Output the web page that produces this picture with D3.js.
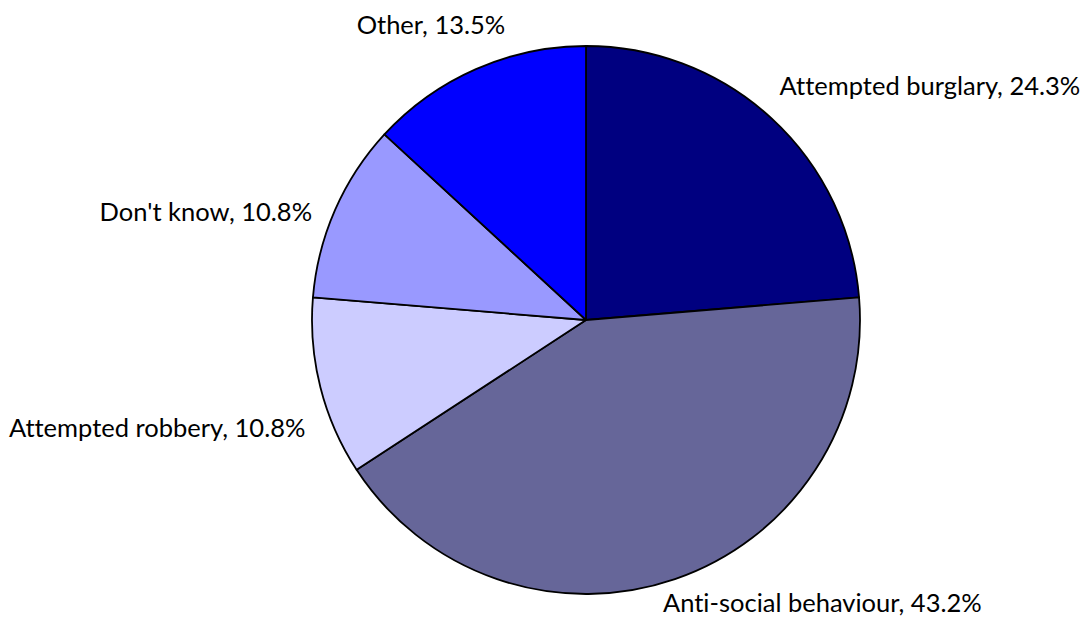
<!DOCTYPE html>
<html>
<head>
<meta charset="utf-8">
<script src="https://cdn.jsdelivr.net/npm/d3@7"></script>
<style>
  html, body { margin: 0; padding: 0; background: #fff; }
  svg text { font-family: "Lato", "Open Sans", sans-serif; fill: #000; font-variant-ligatures: none; font-feature-settings: "liga" 0; }
</style>
</head>
<body>
<svg id="chart" width="1084" height="621"></svg>
<script>
// Reasons reported, share of responses (%)
const categories = ["Attempted burglary", "Anti-social behaviour", "Attempted robbery", "Don't know", "Other"];
const shares = [24.3, 43.2, 10.8, 10.8, 13.5];
const sliceColors = ["#000080", "#666699", "#CCCCFF", "#9999FF", "#0000FF"];

const width = 1084, height = 621;
const cx = 586, cy = 320, radius = 274;

const svg = d3.select("#chart");
const g = svg.append("g").attr("transform", `translate(${cx},${cy})`);

const data = categories.map((c, i) => ({ name: c, value: shares[i], color: sliceColors[i] }));

const pie = d3.pie().value(d => d.value).sort(null);
const arc = d3.arc().innerRadius(0).outerRadius(radius);
const arcs = pie(data);

g.selectAll("path.slice")
  .data(arcs)
  .join("path")
  .attr("class", "slice")
  .attr("d", arc)
  .attr("fill", d => d.data.color)
  .attr("stroke", "#000")
  .attr("stroke-width", 1.8)
  .attr("stroke-linejoin", "round");

// Label placement: anchored on the slice's mid-angle at the rim,
// with per-label nudges so the text sits clear of the pie.
const labelNudge = {
  "Attempted burglary": { dx: 8, dy: -23, anchor: "start" },
  "Anti-social behaviour": { dx: -12, dy: 33, anchor: "start" },
  "Attempted robbery": { dx: -15, dy: 50, anchor: "end" },
  "Don't know": { dx: -23, dy: 11, anchor: "end" },
  "Other": { dx: -45, dy: -35, anchor: "middle" }
};

g.selectAll("text.label")
  .data(arcs)
  .join("text")
  .attr("class", "label")
  .each(function (d) {
    const a = (d.startAngle + d.endAngle) / 2;
    const x = Math.sin(a) * radius;
    const y = -Math.cos(a) * radius;
    const n = labelNudge[d.data.name];
    d3.select(this)
      .attr("x", x + n.dx)
      .attr("y", y + n.dy)
      .attr("text-anchor", n.anchor);
  })
  .attr("font-size", 25.5)
  .text(d => `${d.data.name}, ${d3.format(".1f")(d.data.value)}%`);
</script>
</body>
</html>
